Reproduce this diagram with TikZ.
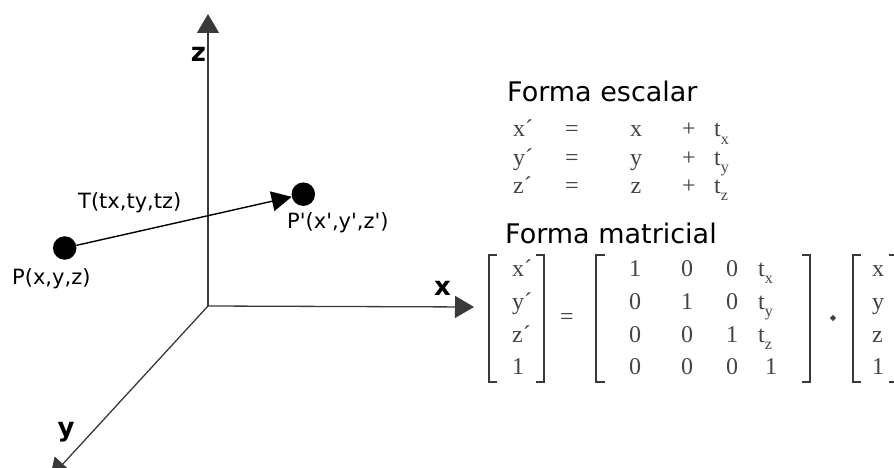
\documentclass[tikz,border=0pt]{standalone}
\usepackage{fontspec}
\setmainfont{DejaVu Sans}
\newfontfamily\eqfont{Liberation Serif}
\usetikzlibrary{arrows.meta}
\definecolor{axisgray}{HTML}{3A3A3A}
\definecolor{eqgray}{HTML}{444444}
\newcommand\sbs[1]{\raisebox{-0.3em}{\fontsize{16}{16}\selectfont #1}}
\begin{document}
\begin{tikzpicture}[x=1pt,y=-1pt,
  axis/.style={draw=axisgray,line width=1.3pt,-{Triangle[length=19pt,width=22pt]}},
  vec/.style={draw=black,line width=1.4pt,-{Triangle[length=20pt,width=20pt]}},
  ptdot/.style={circle,fill=black,minimum size=23.5pt,inner sep=0pt},
  lbl/.style={font=\fontsize{21}{25}\selectfont,inner sep=0pt},
  axlbl/.style={font=\bfseries\fontsize{26}{30}\selectfont,inner sep=0pt,anchor=base},
  head/.style={font=\fontsize{27}{32}\selectfont,inner sep=0pt,anchor=base west},
  eq/.style={font=\eqfont\fontsize{24}{24}\selectfont,text=eqgray,inner sep=0pt},
  brk/.style={draw=axisgray,line width=1.8pt}]
\useasboundingbox (0,0) rectangle (894,468);
\fill[white] (0,0) rectangle (894,468);
% axes
\coordinate (O) at (208,306);
\coordinate (zt) at (208,14);
\coordinate (xt) at (474,307);
\coordinate (yt) at (50,478);
\draw[axis] (O) -- (zt);
\draw[axis] (O) -- (xt);
\draw[axis] (O) -- (yt);
\node[axlbl] (zl) at (198.5,62) {z};
\node[axlbl] (xl) at (442.5,295) {x};
\node[axlbl] (yl) at (66,436) {y};
% points
\node[ptdot] (P) at (64.7,248) {};
\node[ptdot] (Pp) at (303.3,194.2) {};
\draw[vec] (P) -- (Pp);
\node[lbl,anchor=base west] (Pl) at (12,284) {P(x,y,z)};
\node[lbl,anchor=base west] (Tl) at (78,208) {T(tx,ty,tz)};
\node[lbl,anchor=base west] (Ppl) at (287,228) {P\textquotesingle(x\textquotesingle,y\textquotesingle,z\textquotesingle)};
% headings
\node[head] (h1) at (507,102) {Forma escalar};
\node[head] (h2) at (505,243) {Forma matricial};
% scalar form
\foreach \v/\b [count=\i] in {x/137,y/165,z/193}{
  \node[eq,anchor=base west] (sa\i) at (513,\b) {\v´};
  \node[eq,anchor=base] (sb\i) at (572,\b) {=};
  \node[eq,anchor=base] (sc\i) at (636,\b) {\v};
  \node[eq,anchor=base] (sd\i) at (689,\b) {+};
  \node[eq,anchor=base west] (se\i) at (714,\b) {t\sbs{\v}};
}
% matrix form: left vector
\node[eq,anchor=base west] (l1) at (512,276) {x´};
\node[eq,anchor=base west] (l2) at (512,309) {y´};
\node[eq,anchor=base west] (l3) at (512,342) {z´};
\node[eq,anchor=base west] (l4) at (512,374) {1};
\node[eq,anchor=base] (meq) at (567,324) {=};
% matrix
\node[eq,anchor=base] (m11) at (635,276) {1};
\node[eq,anchor=base] (m12) at (687,276) {0};
\node[eq,anchor=base] (m13) at (732,276) {0};
\node[eq,anchor=base west] (m14) at (758,276) {t\sbs{x}};
\node[eq,anchor=base] (m21) at (635,309) {0};
\node[eq,anchor=base] (m22) at (687,309) {1};
\node[eq,anchor=base] (m23) at (732,309) {0};
\node[eq,anchor=base west] (m24) at (758,309) {t\sbs{y}};
\node[eq,anchor=base] (m31) at (635,342) {0};
\node[eq,anchor=base] (m32) at (687,342) {0};
\node[eq,anchor=base] (m33) at (732,342) {1};
\node[eq,anchor=base west] (m34) at (758,342) {t\sbs{z}};
\node[eq,anchor=base] (m41) at (635,374) {0};
\node[eq,anchor=base] (m42) at (687,374) {0};
\node[eq,anchor=base] (m43) at (732,374) {0};
\node[eq,anchor=base] (m44) at (771,374) {1};
% right vector
\node[eq,anchor=base west] (r1) at (872,276) {x};
\node[eq,anchor=base west] (r2) at (872,309) {y};
\node[eq,anchor=base west] (r3) at (872,342) {z};
\node[eq,anchor=base west] (r4) at (872,374) {1};
% product dot
\draw[eqgray,line width=2pt] (833,318) circle (1.8pt);
% brackets
\draw[brk] (497,255) -| (489,382) -- (497,382);
\draw[brk] (536,255) -| (544,382) -- (536,382);
\draw[brk] (605,255) -| (596,382) -- (605,382);
\draw[brk] (802,255) -| (810,382) -- (802,382);
\draw[brk] (861,255) -| (853,382) -- (861,382);
\draw[brk] (889,255) -| (897,382) -- (889,382);
\end{tikzpicture}
\end{document}
